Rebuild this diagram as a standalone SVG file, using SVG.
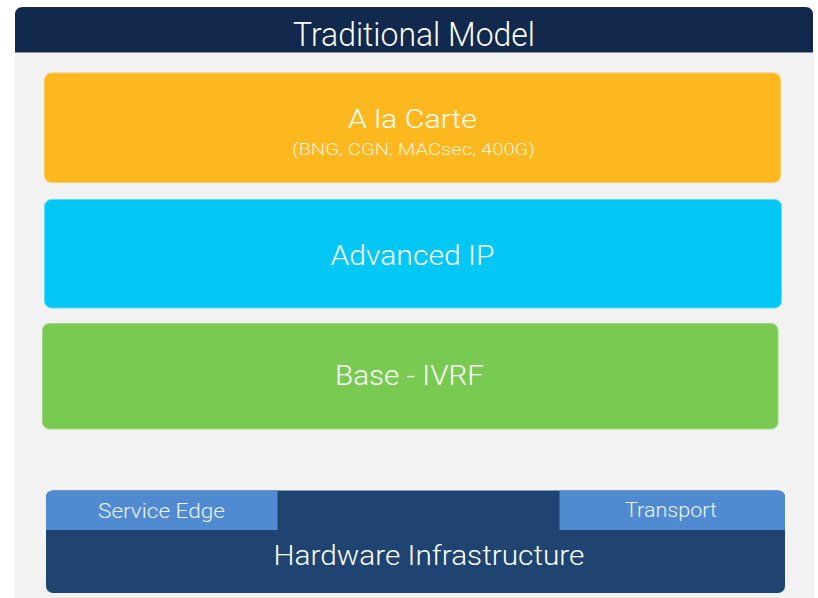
<svg xmlns="http://www.w3.org/2000/svg" width="818" height="598" viewBox="0 0 818 598">
<style>
text{font-family:Roboto,"Open Sans","Liberation Sans",sans-serif;font-weight:300;fill:#ffffff;text-anchor:middle}
.title{font-size:34px}
.big{font-size:28px}
.mid{font-size:25.5px}
.small{font-size:17px;fill:#FFF3D6}
.tab{font-size:20px;fill:#EAF2FC}
</style>
<rect x="0" y="0" width="818" height="598" fill="#ffffff"/>
<g id="panel">
<rect x="15" y="52" width="799" height="546" fill="#F2F2F2"/>
<path d="M15,52 V15 Q15,7 23,7 H805 Q813,7 813,15 V52 Z" fill="#10294C"/>
<line x1="15" y1="52.5" x2="813" y2="52.5" stroke="#8A97AB" stroke-width="1"/>
<text class="title" x="414" y="46" textLength="242" lengthAdjust="spacingAndGlyphs">Traditional Model</text>
</g>
<g id="alacarte">
<rect x="44.5" y="73" width="736" height="109.5" rx="7" fill="#FDB71F" stroke="#FDCB63" stroke-width="1"/>
<text class="mid" x="412.5" y="128" textLength="129" lengthAdjust="spacingAndGlyphs">A la Carte</text>
<text class="small" x="413.5" y="155" textLength="243" lengthAdjust="spacingAndGlyphs">(BNG, CGN, MACsec, 400G)</text>
</g>
<g id="advancedip">
<rect x="44.5" y="199.5" width="737" height="108.5" rx="7" fill="#03C8F5" stroke="#5ADBF7" stroke-width="1"/>
<text class="big" x="412.5" y="265" textLength="164" lengthAdjust="spacingAndGlyphs">Advanced IP</text>
</g>
<g id="base">
<rect x="42.5" y="323.5" width="735.5" height="105.5" rx="7" fill="#78CA51" stroke="#9ED886" stroke-width="1"/>
<text class="big" x="409.5" y="385" textLength="149" lengthAdjust="spacingAndGlyphs">Base - IVRF</text>
</g>
<g id="hardware">
<rect x="46" y="490.5" width="739" height="102.5" rx="7" fill="#1F4471"/>
<path d="M46,530 V497.5 Q46,490.5 53,490.5 H277.5 V530 Z" fill="#508BD2"/>
<path d="M559.5,490.5 H778 Q785,490.5 785,497.5 V530 H559.5 Z" fill="#508BD2"/>
<text class="big" x="429" y="565" textLength="311" lengthAdjust="spacingAndGlyphs">Hardware Infrastructure</text>
</g>
<g id="serviceedge"><text class="tab" x="161.5" y="518" textLength="127" lengthAdjust="spacingAndGlyphs">Service Edge</text></g>
<g id="transport"><text class="tab" x="671" y="517" textLength="92" lengthAdjust="spacingAndGlyphs">Transport</text></g>
<g id="connectors"/>
</svg>
